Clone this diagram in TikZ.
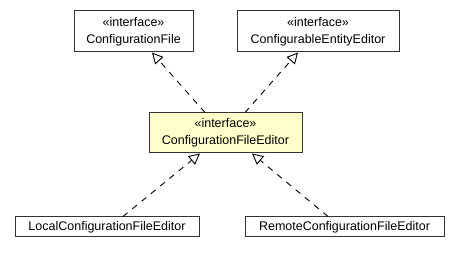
\documentclass[tikz,border=0pt]{standalone}
\usepackage{fontspec}
\setmainfont{Liberation Sans}
\usetikzlibrary{arrows.meta}
\definecolor{ifacefill}{HTML}{FFFFCC}
\definecolor{boxline}{HTML}{333333}
\begin{document}
\begin{tikzpicture}[x=1pt,y=1pt,
    box/.style={draw=boxline,line width=1pt,fill=white,inner sep=0pt,align=center,
      font=\fontsize{12.5}{17}\selectfont},
    iface/.style={box,minimum height=41pt},
    cls/.style={box,minimum height=20pt},
    realize/.style={dashed,dash pattern=on 6pt off 6pt,line width=0.9pt,
      -{Triangle[open,length=11pt,width=11pt,fill=white]}}]
\useasboundingbox (0,0) rectangle (459,261);
% interfaces on top
\node[iface,minimum width=119pt] (cf) at (133.5,229.5) {«interface»\\ConfigurationFile};
\node[iface,minimum width=162pt] (cee) at (318,229.5) {«interface»\\ConfigurableEntityEditor};
\node[iface,minimum width=153pt,minimum height=40pt,fill=ifacefill] (cfe) at (225.5,128) {«interface»\\ConfigurationFileEditor};
% implementing classes
\node[cls,minimum width=184pt] (local) at (107,34) {LocalConfigurationFileEditor};
\node[cls,minimum width=199pt] (remote) at (344.5,34) {RemoteConfigurationFileEditor};
% realizations
\draw[realize] ([xshift=-20.5pt]cfe.north) -- ([xshift=18.5pt]cf.south);
\draw[realize] ([xshift=19.5pt]cfe.north) -- ([xshift=-20pt]cee.south);
\draw[realize] ([xshift=16pt]local.north) -- ([xshift=-25.5pt]cfe.south);
\draw[realize] ([xshift=-16.5pt]remote.north) -- ([xshift=26.5pt]cfe.south);
\end{tikzpicture}
\end{document}
